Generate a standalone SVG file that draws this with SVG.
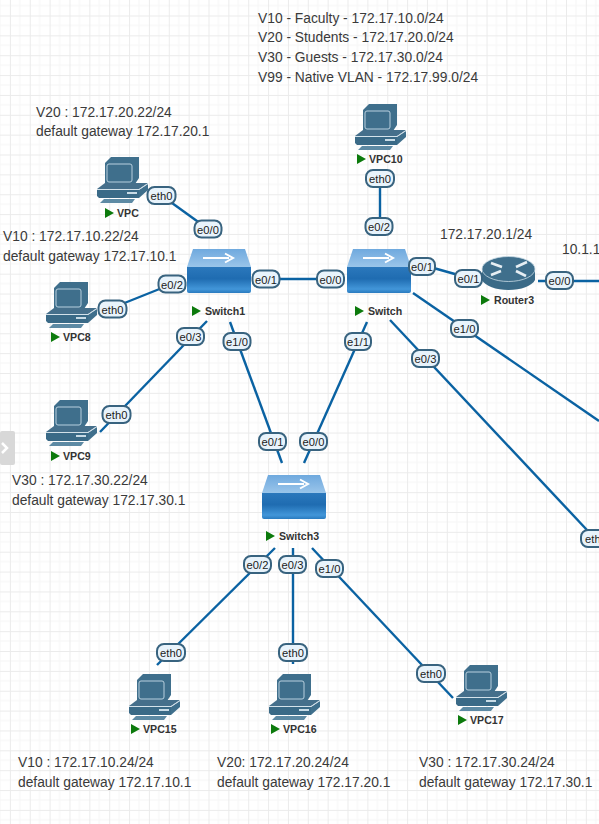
<svg xmlns="http://www.w3.org/2000/svg" width="599" height="824" viewBox="0 0 599 824">
<defs>
<style>
text{font-family:"Liberation Sans",Arial,sans-serif}
.t{font-size:13.8px;fill:#3a3a3a}
.n{font-size:10.6px;font-weight:bold;fill:#333}
.l{font-size:11.2px;fill:#1c1c1c;text-anchor:middle}
.c{stroke:#0a62a2;stroke-width:2.4;fill:none}
.b{fill:#e8f3fb;stroke:#38637f;stroke-width:2}
.p{fill:#0c7a0c}
</style>
<pattern id="g" width="19.86" height="19.86" patternUnits="userSpaceOnUse" x="9.9" y="15.5">
<path d="M0 9.930H19.860M9.930 0V19.860" stroke="#f6f6f6" fill="none"/>
<path d="M0 .5H19.860M.5 0V19.860" stroke="#ebebeb" fill="none"/>
</pattern>
<linearGradient id="st" x1="0" y1="0" x2="0" y2="1"><stop offset="0" stop-color="#6fa9de"/><stop offset="1" stop-color="#9ac5ea"/></linearGradient>
<linearGradient id="sf" x1="0" y1="0" x2="0" y2="1"><stop offset="0" stop-color="#2b78bc"/><stop offset=".45" stop-color="#1f6cb1"/><stop offset=".85" stop-color="#4296d9"/><stop offset="1" stop-color="#2a7bbf"/></linearGradient>
<g id="pc">
<path d="M8 6L14 0H42V21L38 27H8z" fill="#3f6f8c"/>
<rect x="10" y="7" width="25" height="18" rx="2" fill="#3f6f8c" stroke="#b9d0de" stroke-width="1"/>
<path d="M0 32L8 26H51L42 32z" fill="#456f8b"/>
<path d="M0 33H42V41H2L0 39z" fill="#3a6a87"/>
<path d="M42 33L51 27V33L42 41z" fill="#3f6f8c"/>
<path d="M0 32.500H42L51 26.500" stroke="#c3d7e3" stroke-width=".7" fill="none"/>
<rect x="30" y="35" width="10" height="2" fill="#c8dbe6"/>
<path d="M7 42H38L35 46H3z" fill="#5d8aa4"/>
</g>
<g id="sw">
<path d="M6 0H58L64 18H0z" fill="url(#st)"/>
<path d="M0 18H64V42a2 2 0 0 1-2 2H2a2 2 0 0 1-2-2z" fill="url(#sf)"/>
<path d="M16 9H42" stroke="#fff" stroke-width="2"/>
<path d="M38 4.500L46 9L38 13.500" stroke="#fff" stroke-width="2" fill="none"/>
</g>
<g id="rt">
<path d="M0 13V24C3 30 14 34 26.500 34S50 30 53 24V13z" fill="#3a6a87"/>
<ellipse cx="26.500" cy="13" rx="26.500" ry="12.500" fill="#3f6f8c" stroke="#c9dae5" stroke-width=".8"/>
<g stroke="#e6eef3" stroke-width="2.600" fill="none"><path d="M9 7L20 11M34 11L45 6M9 19L19 15M34 15L44 20"/></g>
</g>
<path id="tri" d="M0 0L9 5L0 10z"/>
</defs>
<rect width="599" height="824" fill="#fff"/>
<rect width="599" height="824" fill="url(#g)"/>
<g id="connectors" class="c">
<path d="M172 203L208 229"/>
<path d="M112 308L172 284"/>
<path d="M100 432L207 321"/>
<path d="M253 279H331"/>
<path d="M380 187V230"/>
<path d="M430 267L469 278"/>
<path d="M538 281H599"/>
<path d="M413 293L599 421"/>
<path d="M390 320L587 530"/>
<path d="M230 322L282 463"/>
<path d="M367 322L304 463"/>
<path d="M275 548L157 665"/>
<path d="M293 548V664"/>
<path d="M312 548L453 698"/>
</g>
<g id="grey-tab"><rect x="0" y="431" width="15" height="34" rx="2" fill="#d8d8d8"/><path d="M2 443l5 5-5 5" stroke="#fff" stroke-width="2.500" fill="none"/></g>
<g id="notes" class="t">
<text x="258" y="23">V10 - Faculty - 172.17.10.0/24</text>
<text x="258" y="42">V20 - Students - 172.17.20.0/24</text>
<text x="258" y="62">V30 - Guests - 172.17.30.0/24</text>
<text x="258" y="82">V99 - Native VLAN - 172.17.99.0/24</text>
<text x="36" y="117">V20 : 172.17.20.22/24</text>
<text x="36" y="136">default gateway 172.17.20.1</text>
<text x="3" y="241">V10 : 172.17.10.22/24</text>
<text x="3" y="261">default gateway 172.17.10.1</text>
<text x="12" y="485">V30 : 172.17.30.22/24</text>
<text x="12" y="505">default gateway 172.17.30.1</text>
<text x="440" y="239">172.17.20.1/24</text>
<text x="562" y="254">10.1.1</text>
<text x="18" y="767">V10 : 172.17.10.24/24</text>
<text x="18" y="787">default gateway 172.17.10.1</text>
<text x="217" y="767">V20: 172.17.20.24/24</text>
<text x="217" y="787">default gateway 172.17.20.1</text>
<text x="419" y="767">V30 : 172.17.30.24/24</text>
<text x="419" y="787">default gateway 172.17.30.1</text>
</g>
<g id="VPC"><use href="#pc" x="97" y="157"/><use href="#tri" x="105" y="208" class="p"/><text x="117" y="217" class="n">VPC</text></g>
<g id="VPC8"><use href="#pc" x="46" y="282"/><use href="#tri" x="51" y="332" class="p"/><text x="63" y="341" class="n">VPC8</text></g>
<g id="VPC9"><use href="#pc" x="46" y="400"/><use href="#tri" x="51" y="451" class="p"/><text x="63" y="460" class="n">VPC9</text></g>
<g id="VPC10"><use href="#pc" x="355" y="104"/><use href="#tri" x="357" y="154" class="p"/><text x="369" y="163" class="n">VPC10</text></g>
<g id="VPC15"><use href="#pc" x="129" y="674"/><use href="#tri" x="131" y="724" class="p"/><text x="143" y="733" class="n">VPC15</text></g>
<g id="VPC16"><use href="#pc" x="269" y="674"/><use href="#tri" x="271" y="724" class="p"/><text x="283" y="733" class="n">VPC16</text></g>
<g id="VPC17"><use href="#pc" x="456" y="665"/><use href="#tri" x="458" y="715" class="p"/><text x="470" y="724" class="n">VPC17</text></g>
<g id="Switch1"><use href="#sw" x="187" y="249"/><use href="#tri" x="192" y="306" class="p"/><text x="205" y="315" class="n">Switch1</text></g>
<g id="Switch"><use href="#sw" x="347" y="249"/><use href="#tri" x="355" y="306" class="p"/><text x="368" y="315" class="n">Switch</text></g>
<g id="Switch3"><use href="#sw" x="262" y="475"/><use href="#tri" x="266" y="531" class="p"/><text x="279" y="540" class="n">Switch3</text></g>
<g id="Router3"><use href="#rt" x="482" y="256"/><use href="#tri" x="481" y="295" class="p"/><text x="494" y="304" class="n">Router3</text></g>
<g id="labels">
<g><rect x="147.500" y="187" width="28" height="17" rx="7" class="b"/><text x="161.500" y="200" class="l">eth0</text></g>
<g><rect x="194.500" y="220.500" width="27" height="17" rx="7" class="b"/><text x="208" y="233.500" class="l">e0/0</text></g>
<g><rect x="158.500" y="275.500" width="27" height="17" rx="7" class="b"/><text x="172" y="288.500" class="l">e0/2</text></g>
<g><rect x="98.500" y="300.500" width="28" height="17" rx="7" class="b"/><text x="112.500" y="313.500" class="l">eth0</text></g>
<g><rect x="252.500" y="270.500" width="27" height="17" rx="7" class="b"/><text x="266" y="283.500" class="l">e0/1</text></g>
<g><rect x="317" y="270.500" width="27" height="17" rx="7" class="b"/><text x="330.500" y="283.500" class="l">e0/0</text></g>
<g><rect x="177" y="328" width="27" height="17" rx="7" class="b"/><text x="190.500" y="341" class="l">e0/3</text></g>
<g><rect x="223.500" y="333" width="27" height="17" rx="7" class="b"/><text x="237" y="346" class="l">e1/0</text></g>
<g><rect x="102.500" y="406" width="28" height="17" rx="7" class="b"/><text x="116.500" y="419" class="l">eth0</text></g>
<g><rect x="366" y="170" width="28" height="17" rx="7" class="b"/><text x="380" y="183" class="l">eth0</text></g>
<g><rect x="365.500" y="218" width="27" height="17" rx="7" class="b"/><text x="379" y="231" class="l">e0/2</text></g>
<g><rect x="409" y="258" width="26" height="17" rx="7" class="b"/><text x="422" y="271" class="l">e0/1</text></g>
<g><rect x="455" y="270" width="27" height="17" rx="7" class="b"/><text x="468.500" y="283" class="l">e0/1</text></g>
<g><rect x="546" y="272" width="27" height="17" rx="7" class="b"/><text x="559.500" y="285" class="l">e0/0</text></g>
<g><rect x="451" y="320" width="27" height="17" rx="7" class="b"/><text x="464.500" y="333" class="l">e1/0</text></g>
<g><rect x="412" y="350" width="27" height="17" rx="7" class="b"/><text x="425.500" y="363" class="l">e0/3</text></g>
<g><rect x="345" y="333" width="26" height="17" rx="7" class="b"/><text x="358" y="346" class="l">e1/1</text></g>
<g><rect x="259" y="433" width="27" height="17" rx="7" class="b"/><text x="272.500" y="446" class="l">e0/1</text></g>
<g><rect x="300" y="433" width="27" height="17" rx="7" class="b"/><text x="313.500" y="446" class="l">e0/0</text></g>
<g><rect x="581" y="530" width="30" height="17" rx="7" class="b"/><text x="596" y="543" class="l">eth0</text></g>
<g><rect x="244" y="556" width="27" height="17" rx="7" class="b"/><text x="257.500" y="569" class="l">e0/2</text></g>
<g><rect x="279" y="556" width="27" height="17" rx="7" class="b"/><text x="292.500" y="569" class="l">e0/3</text></g>
<g><rect x="316" y="560" width="27" height="17" rx="7" class="b"/><text x="329.500" y="573" class="l">e1/0</text></g>
<g><rect x="157" y="644" width="28" height="17" rx="7" class="b"/><text x="171" y="657" class="l">eth0</text></g>
<g><rect x="279" y="644" width="28" height="17" rx="7" class="b"/><text x="293" y="657" class="l">eth0</text></g>
<g><rect x="417" y="665" width="28" height="17" rx="7" class="b"/><text x="431" y="678" class="l">eth0</text></g>
</g>
</svg>
